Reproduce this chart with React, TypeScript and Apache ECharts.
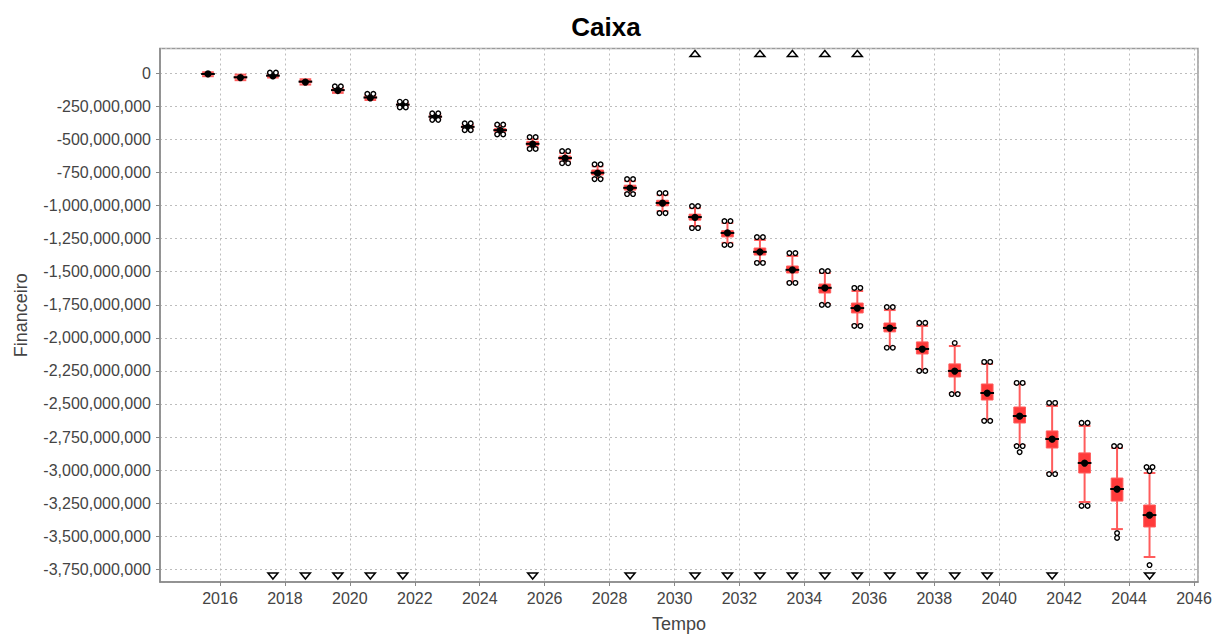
import React, { useEffect, useRef } from "react";
import * as echarts from "echarts";

// ---- data (values in millions) ----
const years = [
  2015.63, 2016.63, 2017.63, 2018.63, 2019.63, 2020.63, 2021.63, 2022.63, 2023.63, 2024.63,
  2025.63, 2026.63, 2027.63, 2028.63, 2029.63, 2030.63, 2031.63, 2032.63, 2033.63, 2034.63,
  2035.63, 2036.63, 2037.63, 2038.63, 2039.63, 2040.63, 2041.63, 2042.63, 2043.63, 2044.63,
];
const whiskerHigh = [
  8, -10, -5, -45, -108, -165, -222, -310, -388, -398,
  -497, -603, -703, -815, -921, -1019, -1132, -1260, -1381, -1510,
  -1646, -1790, -1910, -2062, -2197, -2349, -2515, -2666, -2833, -3022,
];
const quartile3 = [
  0, -22, -12, -55, -118, -175, -230, -320, -397, -418,
  -515, -625, -731, -846, -960, -1065, -1190, -1321, -1457, -1593,
  -1737, -1888, -2031, -2197, -2349, -2523, -2704, -2870, -3060, -3264,
];
const medians = [
  -5, -30, -18, -63, -127, -183, -237, -328, -405, -430,
  -533, -640, -752, -866, -980, -1087, -1207, -1350, -1486, -1622,
  -1775, -1925, -2084, -2250, -2417, -2591, -2765, -2946, -3143, -3340,
];
const quartile1 = [
  -10, -38, -24, -72, -135, -190, -243, -336, -413, -440,
  -548, -655, -769, -883, -1002, -1110, -1237, -1374, -1510, -1661,
  -1812, -1955, -2122, -2296, -2470, -2644, -2833, -3022, -3234, -3430,
];
const whiskerLow = [
  -22, -52, -32, -85, -148, -202, -252, -348, -425, -455,
  -562, -671, -792, -906, -1042, -1155, -1282, -1427, -1578, -1744,
  -1903, -2069, -2243, -2417, -2621, -2811, -3022, -3241, -3446, -3657,
];
const means = [
  -5, -32, -20, -66, -130, -185, -238, -330, -407, -432,
  -535, -642, -755, -868, -982, -1090, -1207, -1351, -1487, -1623,
  -1776, -1926, -2085, -2251, -2418, -2592, -2766, -2947, -3144, -3341,
];
// [year, value (millions), count]
const outliers: [number, number, number][] = [
  [2017.63, 5, 2],
  [2019.63, -98, 2],
  [2020.63, -155, 2],
  [2021.63, -215, 2], [2021.63, -258, 2],
  [2022.63, -303, 2], [2022.63, -352, 2],
  [2023.63, -378, 2], [2023.63, -430, 2],
  [2024.63, -388, 2], [2024.63, -462, 2],
  [2025.63, -482, 2], [2025.63, -572, 2],
  [2026.63, -588, 2], [2026.63, -680, 2],
  [2027.63, -688, 2], [2027.63, -800, 2],
  [2028.63, -800, 2], [2028.63, -913, 2],
  [2029.63, -906, 2], [2029.63, -1057, 2],
  [2030.63, -1004, 2], [2030.63, -1170, 2],
  [2031.63, -1117, 2], [2031.63, -1298, 2],
  [2032.63, -1238, 2], [2032.63, -1434, 2],
  [2033.63, -1359, 2], [2033.63, -1585, 2],
  [2034.63, -1495, 2], [2034.63, -1751, 2],
  [2035.63, -1623, 2], [2035.63, -1910, 2],
  [2036.63, -1767, 2], [2036.63, -2075, 2],
  [2037.63, -1887, 2], [2037.63, -2250, 2],
  [2038.63, -2039, 1], [2038.63, -2425, 2],
  [2039.63, -2182, 2], [2039.63, -2628, 2],
  [2040.63, -2341, 2], [2040.63, -2818, 2], [2040.63, -2864, 1],
  [2041.63, -2492, 2], [2041.63, -3030, 2],
  [2042.63, -2643, 2], [2042.63, -3271, 2],
  [2043.63, -2818, 2], [2043.63, -3476, 1], [2043.63, -3513, 1],
  [2044.63, -2977, 2], [2044.63, -3007, 1], [2044.63, -3718, 1],
];
// outliers lying beyond the axis range
const farOutHighYears = [2030.63, 2032.63, 2033.63, 2034.63, 2035.63];
const farOutLowYears = [
  2017.63, 2018.63, 2019.63, 2020.63, 2021.63, 2025.63, 2028.63, 2030.63, 2031.63, 2032.63,
  2033.63, 2034.63, 2035.63, 2036.63, 2037.63, 2038.63, 2039.63, 2041.63, 2044.63,
];

const M = 1e6;
const X_MIN = 2014.152;
const X_MAX = 2046.123;
const Y_MIN = -3846 * M;
const Y_MAX = 187.5 * M;

const FONT = "Liberation Sans, Arial, Helvetica, sans-serif";
const RED = "#ff3a3a";
const RED_LINE = "#ff5c5c";

function fmt(v: number): string {
  const n = Math.round(v);
  const s = Math.abs(n).toString().replace(/\B(?=(\d{3})+(?!\d))/g, ",");
  return (n < 0 ? "-" : "") + s;
}

export default function App() {
  const ref = useRef<HTMLDivElement>(null);
  useEffect(() => {
    document.body.style.margin = "0";
    if (!ref.current) return;
    const chart = echarts.init(ref.current, undefined, { renderer: "svg" });

    const boxData = years.map((y, i) => [
      y,
      whiskerLow[i] * M,
      quartile1[i] * M,
      medians[i] * M,
      quartile3[i] * M,
      whiskerHigh[i] * M,
      means[i] * M,
    ]);
    const outlierData = outliers.map(([y, v, c]) => [y, v * M, c]);
    const farData = [
      ...farOutHighYears.map((y) => [y, 1]),
      ...farOutLowYears.map((y) => [y, -1]),
    ];

    const option: any = {
      animation: false,
      textStyle: { fontFamily: FONT },
      title: {
        text: "Caixa",
        left: "center",
        top: 9,
        textStyle: { fontSize: 26, fontWeight: "bold", color: "#000", fontFamily: FONT },
      },
      grid: {
        left: 160,
        right: 14,
        top: 48.5,
        bottom: 52,
        outerBoundsMode: "none",
        containLabel: false,
        show: true,
        borderColor: "#9a9a9a",
        borderWidth: 1.5,
        backgroundColor: "#fff",
      },
      xAxis: {
        type: "value",
        min: X_MIN,
        max: X_MAX,
        splitNumber: 16,
        minInterval: 2,
        maxInterval: 2,
        name: "Tempo",
        nameLocation: "middle",
        nameGap: 33,
        nameTextStyle: { fontSize: 18, color: "#444", fontFamily: FONT },
        axisLine: { show: true, onZero: false, lineStyle: { color: "#888", width: 1.5 } },
        axisTick: { show: true, length: 4, lineStyle: { color: "#888" } },
        axisLabel: {
          fontSize: 16,
          color: "#444",
          margin: 8,
          showMinLabel: false,
          showMaxLabel: false,
          formatter: (v: number) => String(Math.round(v)),
        },
        splitLine: { show: true, lineStyle: { type: [2, 3], color: "#bdbdbd", width: 1 } },
      },
      yAxis: {
        type: "value",
        min: Y_MIN,
        max: Y_MAX,
        splitNumber: 16,
        minInterval: 250 * M,
        maxInterval: 250 * M,
        name: "Financeiro",
        nameLocation: "middle",
        nameGap: 130,
        nameTextStyle: { fontSize: 18, color: "#444", fontFamily: FONT },
        axisLine: { show: true, onZero: false, lineStyle: { color: "#888", width: 1.5 } },
        axisTick: { show: true, length: 4, lineStyle: { color: "#888" } },
        axisLabel: {
          fontSize: 16,
          color: "#444",
          margin: 9,
          showMinLabel: false,
          showMaxLabel: false,
          formatter: (v: number) => fmt(v),
        },
        splitLine: { show: true, lineStyle: { type: [2, 3], color: "#bdbdbd", width: 1 } },
      },
      series: [
        {
          type: "custom",
          name: "box",
          data: boxData,
          encode: { x: 0, y: [1, 2, 3, 4, 5, 6] },
          renderItem: (params: any, api: any) => {
            const x = api.value(0);
            const pLow = api.coord([x, api.value(1)]);
            const pQ1 = api.coord([x, api.value(2)]);
            const pMed = api.coord([x, api.value(3)]);
            const pQ3 = api.coord([x, api.value(4)]);
            const pHigh = api.coord([x, api.value(5)]);
            const pMean = api.coord([x, api.value(6)]);
            const cx = pMed[0];
            const w = api.size([0.36, 0])[0];
            const h = w / 2;
            const red = { stroke: RED_LINE, lineWidth: 2 };
            return {
              type: "group",
              children: [
                { type: "line", shape: { x1: cx, y1: pHigh[1], x2: cx, y2: pQ3[1] }, style: red },
                { type: "line", shape: { x1: cx, y1: pQ1[1], x2: cx, y2: pLow[1] }, style: red },
                { type: "line", shape: { x1: cx - h, y1: pHigh[1], x2: cx + h, y2: pHigh[1] }, style: red },
                { type: "line", shape: { x1: cx - h, y1: pLow[1], x2: cx + h, y2: pLow[1] }, style: red },
                {
                  type: "rect",
                  shape: { x: cx - h, y: pQ3[1], width: w, height: Math.max(pQ1[1] - pQ3[1], 1) },
                  style: { fill: RED, stroke: RED_LINE, lineWidth: 1 },
                },
                {
                  type: "line",
                  shape: { x1: cx - h - 1, y1: pMed[1], x2: cx + h + 1, y2: pMed[1] },
                  style: { stroke: "#000", lineWidth: 2 },
                },
                {
                  type: "circle",
                  shape: { cx, cy: pMean[1], r: 3.6 },
                  style: { fill: "#000" },
                },
              ],
            };
          },
          z: 3,
        },
        {
          type: "custom",
          name: "outliers",
          data: outlierData,
          encode: { x: 0, y: 1 },
          renderItem: (params: any, api: any) => {
            const p = api.coord([api.value(0), api.value(1)]);
            const c = api.value(2);
            const st = { fill: "#fff", stroke: "#000", lineWidth: 1.4 };
            const children =
              c > 1
                ? [
                    { type: "circle", shape: { cx: p[0] - 3, cy: p[1], r: 2.3 }, style: st },
                    { type: "circle", shape: { cx: p[0] + 3, cy: p[1], r: 2.3 }, style: st },
                  ]
                : [{ type: "circle", shape: { cx: p[0], cy: p[1], r: 2.3 }, style: st }];
            return { type: "group", children };
          },
          z: 4,
        },
        {
          type: "custom",
          name: "farout",
          data: farData,
          encode: { x: 0 },
          renderItem: (params: any, api: any) => {
            const x = api.value(0);
            const dir = api.value(1);
            const st = { fill: "#fff", stroke: "#000", lineWidth: 1.5 };
            if (dir > 0) {
              const top = api.coord([x, Y_MAX]);
              const cy = top[1] + 5;
              return {
                type: "polygon",
                shape: { points: [[top[0] - 5, cy + 3], [top[0] + 5, cy + 3], [top[0], cy - 3]] },
                style: st,
              };
            }
            const bot = api.coord([x, Y_MIN]);
            const cy = bot[1] - 6;
            return {
              type: "polygon",
              shape: { points: [[bot[0] - 5, cy - 3], [bot[0] + 5, cy - 3], [bot[0], cy + 3]] },
              style: st,
            };
          },
          z: 4,
        },
      ],
    };
    chart.setOption(option);
    return () => chart.dispose();
  }, []);
  return <div ref={ref} style={{ width: 1212, height: 634 }} />;
}
